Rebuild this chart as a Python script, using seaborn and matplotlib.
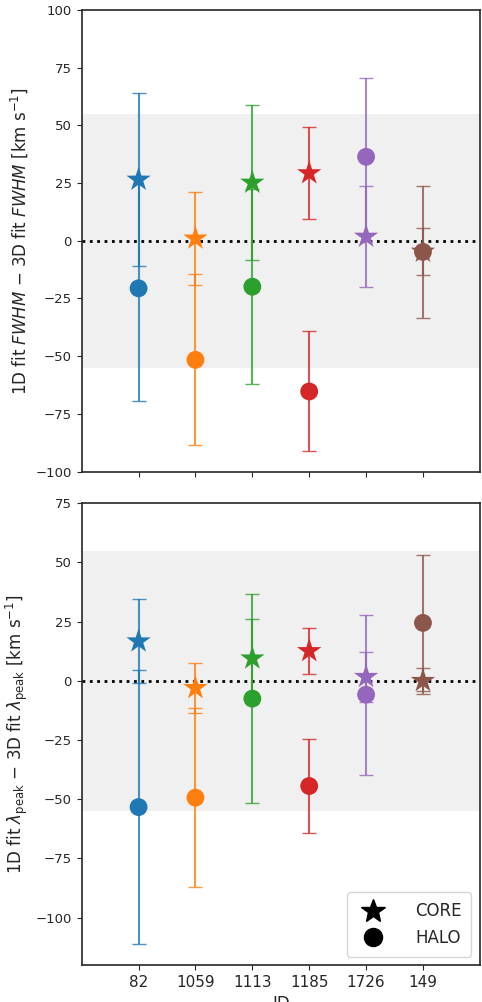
import numpy as np
import pandas as pd
import seaborn as sns
import matplotlib.pyplot as plt
from matplotlib.lines import Line2D

ids = ['82', '1059', '1113', '1185', '1726', '149']

# FWHM differences (1D - 3D), km/s
fwhm_core = [26.5, 1.0, 25.2, 29.3, 1.8, -4.7]
fwhm_core_err = [37.4, 20.2, 33.6, 20.0, 21.8, 10.1]
fwhm_halo = [-20.6, -51.6, -19.9, -65.3, 36.4, -4.8]
fwhm_halo_err = [48.7, 37.0, 42.3, 26.0, 34.0, 28.5]

# lambda_peak differences (1D - 3D), km/s
lpeak_core = [16.7, -3.0, 9.5, 12.6, 1.7, 0.0]
lpeak_core_err = [17.7, 10.5, 16.6, 9.8, 10.6, 5.6]
lpeak_halo = [-53.3, -49.3, -7.5, -44.4, -5.8, 24.5]
lpeak_halo_err = [57.7, 37.8, 44.2, 19.7, 33.8, 28.7]

colors = sns.color_palette('tab10', len(ids))

sns.set_style('ticks')
plt.rcParams['font.family'] = ['DejaVu Sans']
plt.rcParams['mathtext.fontset'] = 'dejavusans'


def make_df(core, core_err, halo, halo_err):
    rows = []
    for i, name in enumerate(ids):
        rows.append({'pos': i, 'ID': name, 'comp': 'CORE', 'val': core[i], 'err': core_err[i]})
        rows.append({'pos': i, 'ID': name, 'comp': 'HALO', 'val': halo[i], 'err': halo_err[i]})
    return pd.DataFrame(rows)


def panel(ax, df, ylim, yticks, ylabel):
    ax.axhspan(-55, 55, color='#f0f0f0', zorder=0, lw=0)
    ax.axhline(0, color='k', ls=':', lw=2, zorder=1)
    for _, r in df.iterrows():
        ax.errorbar(r['pos'], r['val'], yerr=r['err'], fmt='none',
                    ecolor=colors[r['pos']], elinewidth=1.5, capsize=5,
                    alpha=0.8, zorder=2)
    sns.scatterplot(data=df, x='pos', y='val', hue='ID', style='comp',
                    size='comp', sizes={'CORE': 340, 'HALO': 165},
                    markers={'CORE': '*', 'HALO': 'o'}, palette=colors,
                    hue_order=ids, style_order=['CORE', 'HALO'],
                    linewidth=0, legend=False, ax=ax, zorder=3)
    ax.set_xlim(-1, 6)
    ax.set_ylim(*ylim)
    ax.set_yticks(yticks)
    ax.set_xticks(range(len(ids)))
    ax.set_ylabel(ylabel, fontsize=12)
    ax.tick_params(labelsize=9.5)
    for sp in ax.spines.values():
        sp.set_linewidth(1.2)


fig = plt.figure(figsize=(4.82, 10.02), dpi=100)
ax1 = fig.add_axes([0.1695, 0.5294, 0.826, 0.4606])
ax2 = fig.add_axes([0.1695, 0.0369, 0.826, 0.4608])

panel(ax1, make_df(fwhm_core, fwhm_core_err, fwhm_halo, fwhm_halo_err),
      (-100, 100), [-100, -75, -50, -25, 0, 25, 50, 75, 100],
      r'1D fit $FWHM$ $-$ 3D fit $FWHM$ [km s$^{-1}$]')
ax1.set_xticklabels([])
ax1.set_xlabel('')

panel(ax2, make_df(lpeak_core, lpeak_core_err, lpeak_halo, lpeak_halo_err),
      (-120, 75), [-100, -75, -50, -25, 0, 25, 50, 75],
      r'1D fit $\lambda_{\rm peak}$ $-$ 3D fit $\lambda_{\rm peak}$ [km s$^{-1}$]')
ax2.set_xticklabels(ids, fontsize=11)
ax2.set_xlabel('ID', fontsize=12)

handles = [Line2D([], [], marker='*', color='k', ls='', markersize=18),
           Line2D([], [], marker='o', color='k', ls='', markersize=13)]
ax2.legend(handles, ['CORE', 'HALO'], loc='lower right', fontsize=12,
           handletextpad=1.5, borderpad=0.6)

fig.savefig('out.png', dpi=100)
